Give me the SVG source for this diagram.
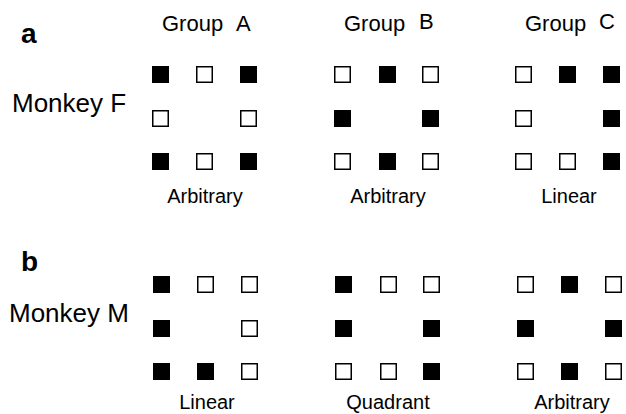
<svg xmlns="http://www.w3.org/2000/svg" width="626" height="414" viewBox="0 0 626 414">
<style>
text{font-family:"Liberation Sans",Arial,Helvetica,sans-serif;fill:#000}
.pl{font-size:28px;font-weight:bold}
.mk{font-size:26px}
.gh{font-size:22px}
.lb{font-size:20px;text-anchor:middle}
.f{fill:#000}
.o{fill:#fff;stroke:#000;stroke-width:1.5}
</style>
<defs>
<rect id="F" class="f" x="0" y="0" width="17" height="17"/>
<rect id="O" class="o" x="0.75" y="0.75" width="15.5" height="15.5"/>
</defs>
<rect width="626" height="414" fill="#fff"/>

<g id="panel-a-labels">
<text class="pl" x="21" y="43">a</text>
<text class="mk" x="12" y="112">Monkey F</text>
<text class="gh" x="162" y="31">Group<tspan x="236">A</tspan></text>
<text class="gh" x="344" y="31">Group<tspan x="419" y="29">B</tspan></text>
<text class="gh" x="525" y="31">Group<tspan x="599" y="29">C</tspan></text>
</g>

<g id="a-groupA">
<use href="#F" x="152" y="66"/><use href="#O" x="196" y="66"/><use href="#F" x="240" y="66"/>
<use href="#O" x="152" y="110"/><use href="#O" x="240" y="110"/>
<use href="#F" x="152" y="153"/><use href="#O" x="196" y="153"/><use href="#F" x="240" y="153"/>
<text class="lb" x="205" y="203">Arbitrary</text>
</g>

<g id="a-groupB">
<use href="#O" x="334" y="66"/><use href="#F" x="379" y="66"/><use href="#O" x="422" y="66"/>
<use href="#F" x="334" y="110"/><use href="#F" x="422" y="110"/>
<use href="#O" x="334" y="153"/><use href="#F" x="379" y="153"/><use href="#O" x="422" y="153"/>
<text class="lb" x="388" y="203">Arbitrary</text>
</g>

<g id="a-groupC">
<use href="#O" x="515" y="66"/><use href="#F" x="559" y="66"/><use href="#F" x="603" y="66"/>
<use href="#O" x="515" y="110"/><use href="#F" x="603" y="110"/>
<use href="#O" x="515" y="153"/><use href="#O" x="559" y="153"/><use href="#F" x="603" y="153"/>
<text class="lb" x="569" y="203">Linear</text>
</g>

<g id="panel-b-labels">
<text class="pl" x="21" y="271">b</text>
<text class="mk" x="9" y="322">Monkey M</text>
</g>

<g id="b-group1">
<use href="#F" x="153" y="276"/><use href="#O" x="197" y="276"/><use href="#O" x="241" y="276"/>
<use href="#F" x="153" y="320"/><use href="#O" x="241" y="320"/>
<use href="#F" x="153" y="363"/><use href="#F" x="197" y="363"/><use href="#O" x="241" y="363"/>
<text class="lb" x="207" y="409">Linear</text>
</g>

<g id="b-group2">
<use href="#F" x="335" y="276"/><use href="#O" x="380" y="276"/><use href="#O" x="423" y="276"/>
<use href="#F" x="335" y="320"/><use href="#F" x="423" y="320"/>
<use href="#O" x="335" y="363"/><use href="#O" x="380" y="363"/><use href="#F" x="423" y="363"/>
<text class="lb" x="388" y="409">Quadrant</text>
</g>

<g id="b-group3">
<use href="#O" x="517" y="276"/><use href="#F" x="561" y="276"/><use href="#O" x="605" y="276"/>
<use href="#F" x="517" y="320"/><use href="#F" x="605" y="320"/>
<use href="#O" x="517" y="363"/><use href="#F" x="561" y="363"/><use href="#O" x="605" y="363"/>
<text class="lb" x="572" y="409">Arbitrary</text>
</g>

<g id="connectors"></g>
</svg>
